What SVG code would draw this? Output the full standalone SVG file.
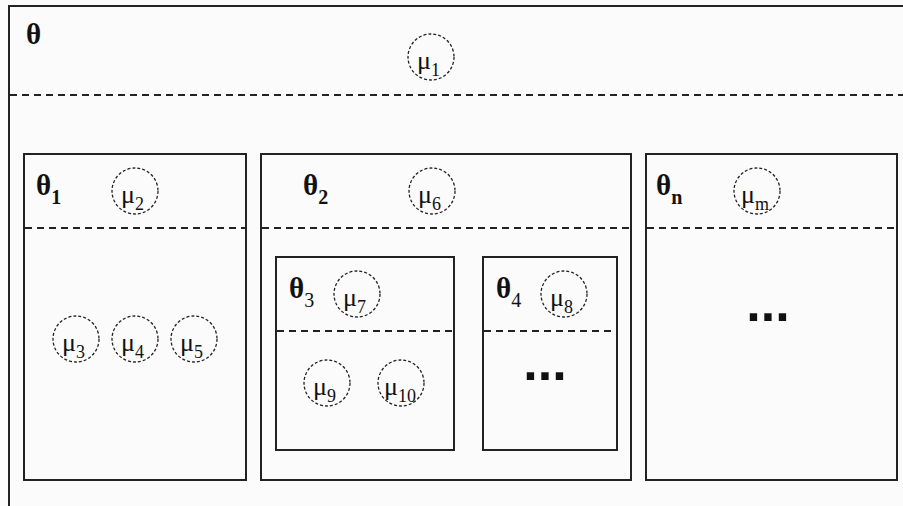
<svg xmlns="http://www.w3.org/2000/svg" width="903" height="506" viewBox="0 0 903 506">
<style>
.box{fill:none;stroke:#222;stroke-width:2}
.div{stroke:#222;stroke-width:2;stroke-dasharray:7 5}
.c{fill:none;stroke:#222;stroke-width:1.3;stroke-dasharray:3 2}
.th{font-family:"Liberation Serif","Times New Roman",serif;font-weight:bold;font-size:29px;fill:#111}
.ths{font-size:20px}
.thr{font-size:20px;font-weight:normal}
.mu{font-family:"Liberation Serif","Times New Roman",serif;font-size:26px;fill:#111}
.mus{font-size:18px}
.dots{font-family:"Liberation Sans",Arial,sans-serif;font-weight:bold;font-size:52px;fill:#111}
</style>
<rect width="903" height="506" fill="#fbfbfb"/>
<g id="theta">
<rect class="box" x="9" y="6" width="900" height="510"/>
<line class="div" x1="10" y1="95" x2="903" y2="95"/>
<text class="th" x="26" y="44">θ</text>
<circle class="c" cx="431" cy="57" r="23"/>
<text class="mu" x="417" y="69">μ<tspan class="mus" dy="7">1</tspan></text>
</g>
<g id="theta1">
<rect class="box" x="24" y="154" width="222" height="326"/>
<line class="div" x1="25" y1="228" x2="245" y2="228"/>
<text class="th" x="36" y="195">θ<tspan class="ths" dy="9">1</tspan></text>
<circle class="c" cx="135" cy="191" r="23"/>
<text class="mu" x="121" y="203">μ<tspan class="mus" dy="7">2</tspan></text>
<circle class="c" cx="76" cy="339" r="23"/>
<text class="mu" x="62" y="351">μ<tspan class="mus" dy="7">3</tspan></text>
<circle class="c" cx="135" cy="339" r="23"/>
<text class="mu" x="121" y="351">μ<tspan class="mus" dy="7">4</tspan></text>
<circle class="c" cx="194" cy="339" r="23"/>
<text class="mu" x="180" y="351">μ<tspan class="mus" dy="7">5</tspan></text>
</g>
<g id="theta2">
<rect class="box" x="261" y="154" width="370" height="326"/>
<line class="div" x1="262" y1="228" x2="630" y2="228"/>
<text class="th" x="303" y="195">θ<tspan class="ths" dy="9">2</tspan></text>
<circle class="c" cx="432" cy="191" r="23"/>
<text class="mu" x="418" y="203">μ<tspan class="mus" dy="7">6</tspan></text>
</g>
<g id="theta3">
<rect class="box" x="276" y="257" width="178" height="193"/>
<line class="div" x1="277" y1="331" x2="453" y2="331"/>
<text class="th" x="289" y="298">θ<tspan class="thr" dy="9">3</tspan></text>
<circle class="c" cx="357" cy="294" r="23"/>
<text class="mu" x="343" y="306">μ<tspan class="mus" dy="7">7</tspan></text>
<circle class="c" cx="327" cy="383" r="23"/>
<text class="mu" x="313" y="395">μ<tspan class="mus" dy="7">9</tspan></text>
<circle class="c" cx="401" cy="383" r="23"/>
<text class="mu" x="384" y="395">μ<tspan class="mus" dy="7">10</tspan></text>
</g>
<g id="theta4">
<rect class="box" x="483" y="257" width="134" height="193"/>
<line class="div" x1="484" y1="331" x2="616" y2="331"/>
<text class="th" x="496" y="298">θ<tspan class="thr" dy="9">4</tspan></text>
<circle class="c" cx="564" cy="294" r="23"/>
<text class="mu" x="550" y="306">μ<tspan class="mus" dy="7">8</tspan></text>
<text class="dots" x="545" y="380" text-anchor="middle">...</text>
</g>
<g id="thetan">
<rect class="box" x="646" y="154" width="251" height="326"/>
<line class="div" x1="647" y1="228" x2="896" y2="228"/>
<text class="th" x="656" y="195">θ<tspan class="ths" dy="9">n</tspan></text>
<circle class="c" cx="757" cy="191" r="23"/>
<text class="mu" x="741" y="203">μ<tspan class="mus" dy="7">m</tspan></text>
<text class="dots" x="768" y="321" text-anchor="middle">...</text>
</g>
<g id="connectors"></g>
</svg>
